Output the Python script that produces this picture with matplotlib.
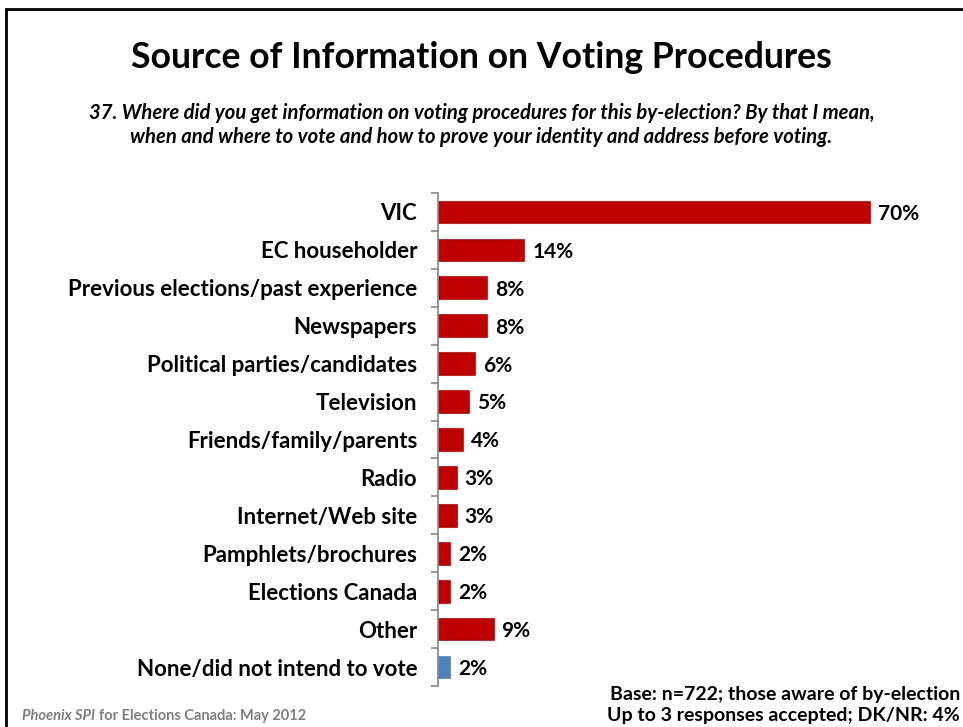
import matplotlib.pyplot as plt
import numpy as np
from matplotlib.patches import Rectangle

plt.rcParams['font.family'] = ['Lato', 'DejaVu Sans']

categories = ['VIC', 'EC householder', 'Previous elections/past experience', 'Newspapers',
              'Political parties/candidates', 'Television', 'Friends/family/parents', 'Radio',
              'Internet/Web site', 'Pamphlets/brochures', 'Elections Canada', 'Other',
              'None/did not intend to vote']
values = [70, 14, 8, 8, 6, 5, 4, 3, 3, 2, 2, 9, 2]
colors = ['#C00000'] * 12 + ['#4F81BD']

title = 'Source of Information on Voting Procedures'
question = ('37. Where did you get information on voting procedures for this by-election? By that I mean,\n'
            'when and where to vote and how to prove your identity and address before voting.')
base_note = 'Base: n=722; those aware of by-election\nUp to 3 responses accepted; DK/NR: 4%'

fig = plt.figure(figsize=(9.63, 7.27), dpi=100)

# outer slide frame
fig.patches.append(Rectangle((6 / 963, -0.1), 1.2, 1 - 9 / 727 + 0.1, transform=fig.transFigure,
                             fill=False, edgecolor='black', linewidth=2))

ax = fig.add_axes([438 / 963, 1 - 686 / 727, 0.98 - 438 / 963, (686 - 193) / 727])
y = np.arange(len(categories))
bars = ax.barh(y, values, height=0.6, color=colors, edgecolor=colors, linewidth=0.5)
ax.set_ylim(len(categories) - 0.5, -0.5)
ax.set_xlim(0, 82)

ax.set_yticks(y)
ax.set_yticklabels(categories, fontsize=16, fontweight='bold')
ax.set_yticks(np.arange(len(categories) + 1) - 0.5, minor=True)
ax.tick_params(axis='y', which='major', length=0, pad=15)
ax.tick_params(axis='y', which='minor', length=5, color='#868686', width=1.2, direction='out')
ax.set_xticks([])
for side in ['top', 'right', 'bottom']:
    ax.spines[side].set_visible(False)
ax.spines['left'].set_color('#868686')
ax.spines['left'].set_linewidth(1.2)

for bar, v in zip(bars, values):
    ax.text(bar.get_width() + 1.3, bar.get_y() + bar.get_height() / 2 + 0.05, f'{v}%',
            va='center', ha='left', fontsize=15, fontweight='bold')

fig.text(0.5, 1 - 57 / 727, title, ha='center', va='center', fontsize=25.7, fontweight='bold')
fig.text(0.5, 1 - 125 / 727, question, ha='center', va='center', fontsize=14.6,
         fontweight='bold', style='italic', linespacing=1.25)
fig.text(960 / 963, 1 - 705 / 727, base_note, ha='right', va='center', fontsize=14,
         fontweight='bold', linespacing=1.35)

# footer: italic company name followed by plain bold text
renderer = fig.canvas.get_renderer()
t1 = fig.text(22 / 963, 1 - 716 / 727, 'Phoenix SPI', ha='left', va='center', fontsize=10.5,
              fontweight='bold', style='italic', color='#7F7F7F')
ext = t1.get_window_extent(renderer)
fig.text((ext.x1 + 4) / 963, 1 - 716 / 727, 'for Elections Canada: May 2012',
         ha='left', va='center', fontsize=10.5, fontweight='bold', color='#7F7F7F')

fig.savefig('out.png', dpi=100)
